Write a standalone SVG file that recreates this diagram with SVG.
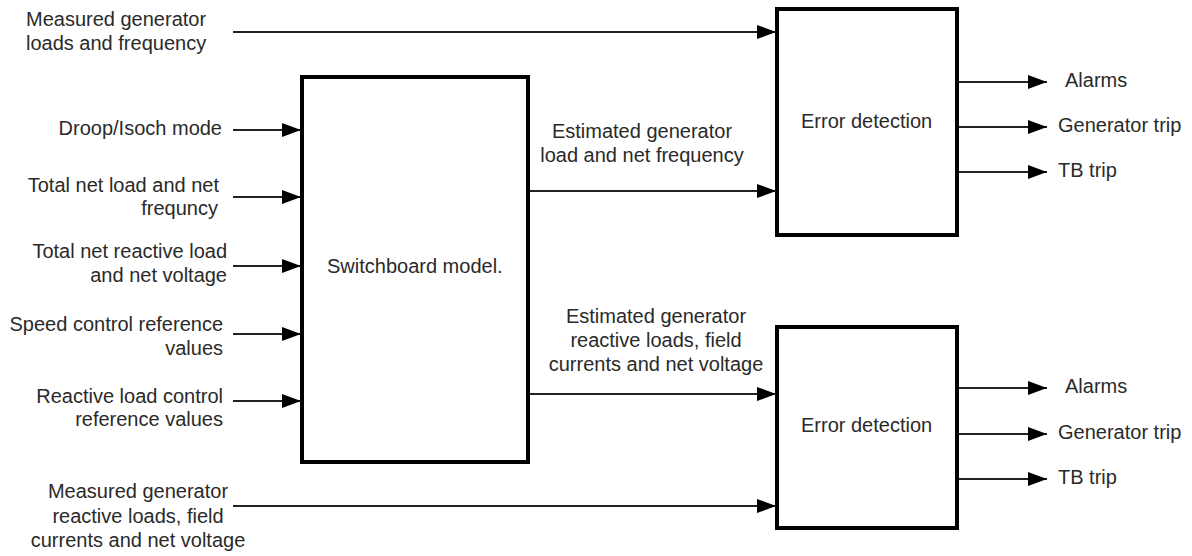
<svg xmlns="http://www.w3.org/2000/svg" width="1192" height="556" viewBox="0 0 1192 556">
<style>
text{font-family:"Liberation Sans",Arial,sans-serif;font-size:20px;fill:#2a2a2a}
.box{fill:#fff;stroke:#000;stroke-width:4}
.c line{stroke:#222;stroke-width:2;marker-end:url(#ah)}
.r{text-anchor:end}
.m{text-anchor:middle}
</style>
<defs>
<marker id="ah" markerUnits="userSpaceOnUse" markerWidth="19" markerHeight="14" refX="19" refY="7" orient="auto">
<path d="M0,0 L19,7 L0,14 z" fill="#000"/>
</marker>
</defs>
<rect width="1192" height="556" fill="#fff"/>
<g id="switchboard">
<rect class="box" x="302" y="77" width="226" height="385"/>
<text x="327" y="273">Switchboard model.</text>
</g>
<g id="error1">
<rect class="box" x="777" y="9" width="180" height="226"/>
<text x="801" y="128">Error detection</text>
</g>
<g id="error2">
<rect class="box" x="777" y="327" width="180" height="201"/>
<text x="801" y="432">Error detection</text>
</g>
<g id="labels">
<text x="26" y="26">Measured generator</text>
<text x="26" y="50">loads and frequency</text>
<text class="r" x="222" y="135">Droop/Isoch mode</text>
<text class="r" x="219" y="192">Total net load and net</text>
<text class="r" x="218" y="215">frequncy</text>
<text class="r" x="227" y="258">Total net reactive load</text>
<text class="r" x="227" y="282">and net voltage</text>
<text class="r" x="223" y="331">Speed control reference</text>
<text class="r" x="223" y="355">values</text>
<text class="r" x="223" y="403">Reactive load control</text>
<text class="r" x="223" y="426">reference values</text>
<text class="m" x="138" y="498">Measured generator</text>
<text class="m" x="138" y="523">reactive loads, field</text>
<text class="m" x="138" y="547">currents and net voltage</text>
<text class="m" x="642" y="138">Estimated generator</text>
<text class="m" x="642" y="162">load and net frequency</text>
<text class="m" x="656" y="323">Estimated generator</text>
<text class="m" x="656" y="347">reactive loads, field</text>
<text class="m" x="656" y="371">currents and net voltage</text>
<text x="1065" y="87">Alarms</text>
<text x="1058" y="132">Generator trip</text>
<text x="1058" y="177">TB trip</text>
<text x="1065" y="393">Alarms</text>
<text x="1058" y="439">Generator trip</text>
<text x="1058" y="484">TB trip</text>
</g>
<g id="connectors" class="c">
<line x1="233" y1="32" x2="776" y2="32"/>
<line x1="233" y1="130" x2="301" y2="130"/>
<line x1="233" y1="197" x2="301" y2="197"/>
<line x1="233" y1="266" x2="301" y2="266"/>
<line x1="233" y1="334" x2="301" y2="334"/>
<line x1="233" y1="401" x2="301" y2="401"/>
<line x1="233" y1="506" x2="776" y2="506"/>
<line x1="530" y1="191" x2="776" y2="191"/>
<line x1="530" y1="394" x2="776" y2="394"/>
<line x1="959" y1="82" x2="1047" y2="82"/>
<line x1="959" y1="127" x2="1047" y2="127"/>
<line x1="959" y1="172" x2="1047" y2="172"/>
<line x1="959" y1="388" x2="1047" y2="388"/>
<line x1="959" y1="434" x2="1047" y2="434"/>
<line x1="959" y1="479" x2="1047" y2="479"/>
</g>
</svg>
